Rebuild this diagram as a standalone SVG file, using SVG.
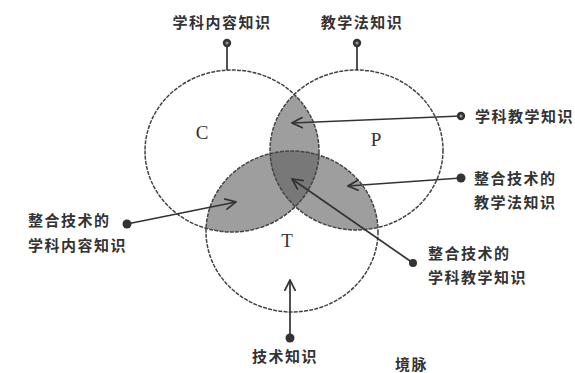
<svg xmlns="http://www.w3.org/2000/svg" width="575" height="373" viewBox="0 0 575 373">
<style>
.cj{font-family:"Noto Sans CJK SC","Noto Sans",sans-serif;font-size:15px;fill:#333;letter-spacing:1.5px;font-weight:bold}
.lt{font-family:"Liberation Serif",serif;font-size:19px;fill:#333}
.ring{fill:none;stroke:#444;stroke-width:1.5;stroke-dasharray:4 1.2}
.ln{stroke:#333;stroke-width:1.7;fill:none}
.dot{fill:#333}
</style>
<defs>
<ellipse id="eC" cx="232" cy="151" rx="87" ry="81"/>
<ellipse id="eP" cx="356.5" cy="150" rx="86.5" ry="80"/>
<ellipse id="eT" cx="292" cy="231.5" rx="86" ry="80.5"/>
<clipPath id="cC"><use href="#eC"/></clipPath>
<clipPath id="cP"><use href="#eP"/></clipPath>
<clipPath id="cT"><use href="#eT"/></clipPath>
<marker id="ah" viewBox="0 0 12 12" refX="11" refY="6" markerWidth="12" markerHeight="12" markerUnits="userSpaceOnUse" orient="auto">
<path d="M0,0.5 L11,6 L0,11.5" fill="none" stroke="#333" stroke-width="1.7"/>
</marker>
</defs>
<rect width="575" height="373" fill="#fff"/>
<g id="shading">
<use href="#eP" clip-path="url(#cC)" fill="#9e9e9e"/>
<use href="#eT" clip-path="url(#cC)" fill="#9e9e9e"/>
<use href="#eT" clip-path="url(#cP)" fill="#9e9e9e"/>
<g clip-path="url(#cP)"><use href="#eT" clip-path="url(#cC)" fill="#787878"/></g>
</g>
<g id="C"><use href="#eC" class="ring"/><text class="lt" x="202" y="139" text-anchor="middle">C</text></g>
<g id="P"><use href="#eP" class="ring"/><text class="lt" x="376" y="146" text-anchor="middle">P</text></g>
<g id="T"><use href="#eT" class="ring"/><text class="lt" x="287" y="247" text-anchor="middle">T</text></g>
<g id="connectors">
<line class="ln" x1="227" y1="46" x2="227" y2="70"/>
<line class="ln" x1="357" y1="46" x2="357" y2="70"/>
<line class="ln" x1="461" y1="116" x2="292" y2="123" marker-end="url(#ah)"/>
<line class="ln" x1="461" y1="178" x2="348" y2="186" marker-end="url(#ah)"/>
<line class="ln" x1="413" y1="263" x2="292" y2="179" marker-end="url(#ah)"/>
<line class="ln" x1="127" y1="224" x2="236" y2="202" marker-end="url(#ah)"/>
<line class="ln" x1="290" y1="338" x2="290" y2="280" marker-end="url(#ah)"/>
<circle class="dot" cx="227" cy="43" r="4.2"/><circle cx="227" cy="43" r="1.5" fill="#999"/>
<circle class="dot" cx="357" cy="43" r="4.2"/><circle cx="357" cy="43" r="1.5" fill="#999"/>
<circle class="dot" cx="461" cy="116" r="4.2"/><circle cx="461" cy="116" r="1.5" fill="#999"/>
<circle class="dot" cx="461" cy="178" r="4.5"/>
<circle class="dot" cx="413" cy="263" r="4"/>
<circle class="dot" cx="127" cy="224" r="4.5"/>
<circle class="dot" cx="290" cy="338" r="4.5"/>
</g>
<g id="labels">
<text class="cj" x="222" y="28" text-anchor="middle">学科内容知识</text>
<text class="cj" x="362" y="28" text-anchor="middle">教学法知识</text>
<text class="cj" x="475" y="122">学科教学知识</text>
<text class="cj" x="474" y="184">整合技术的</text>
<text class="cj" x="474" y="208">教学法知识</text>
<text class="cj" x="428" y="259">整合技术的</text>
<text class="cj" x="428" y="283">学科教学知识</text>
<text class="cj" x="28" y="226">整合技术的</text>
<text class="cj" x="28" y="251">学科内容知识</text>
<text class="cj" x="285" y="362" text-anchor="middle">技术知识</text>
<text class="cj" x="395" y="370">境脉</text>
</g>
</svg>
